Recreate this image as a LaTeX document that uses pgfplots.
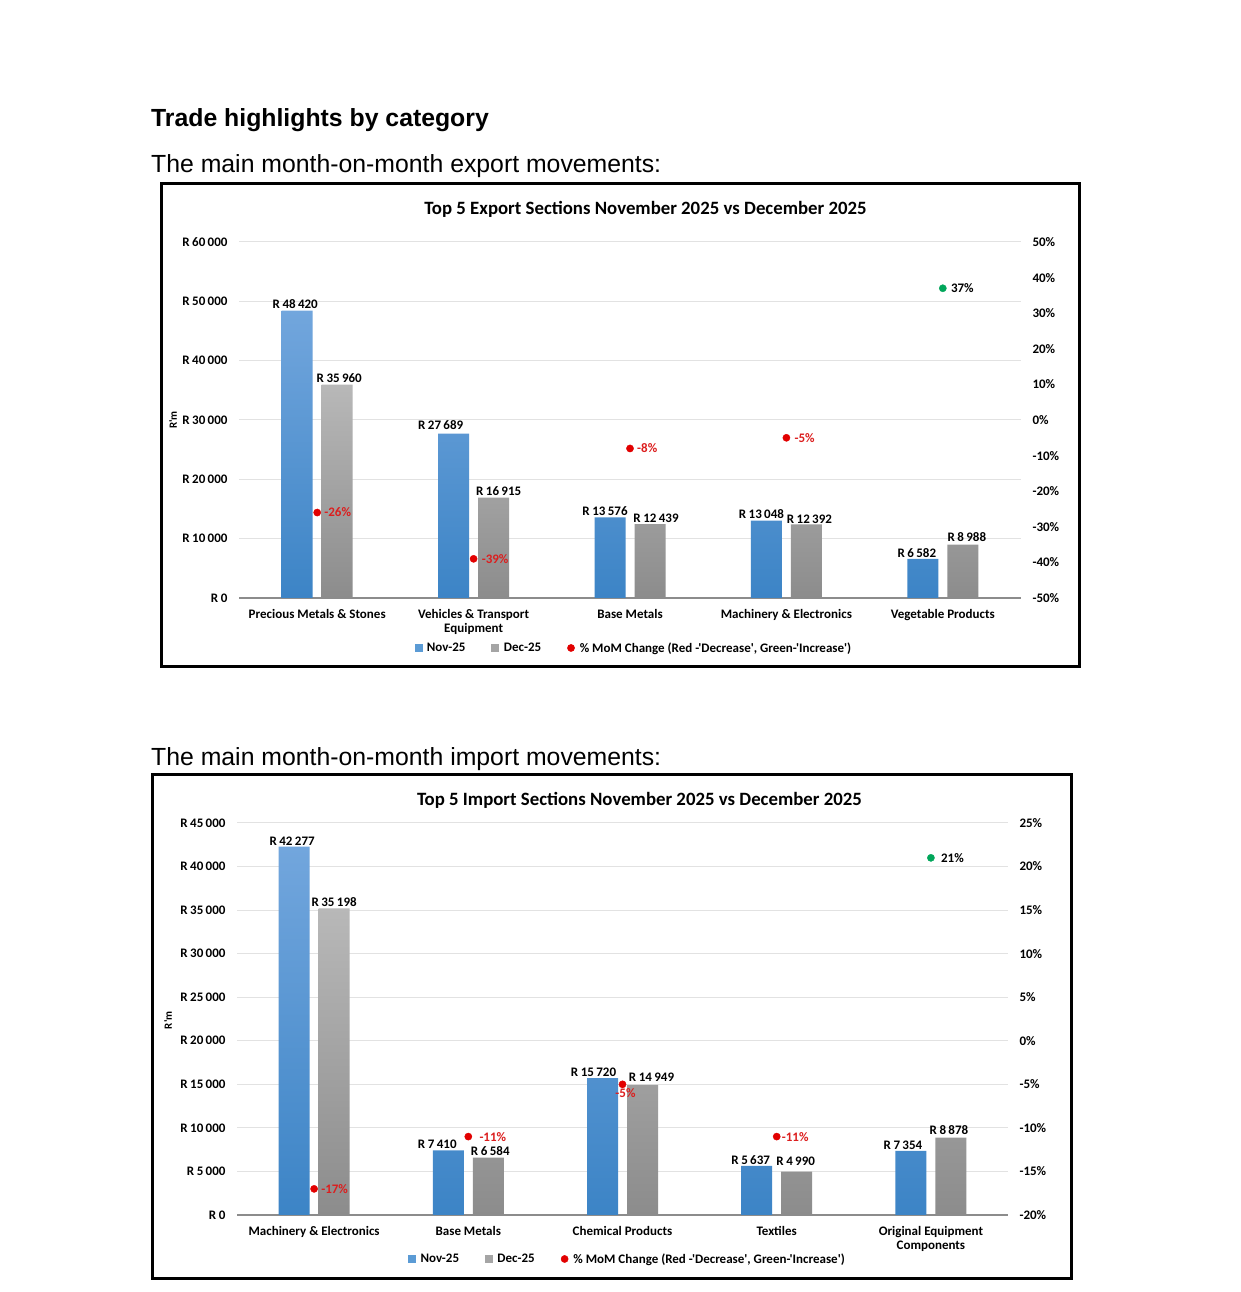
\documentclass[border=0pt]{standalone}
\usepackage{pgfplots}
\pgfplotsset{compat=1.18}
\usepackage{pgfplotstable}
\usepackage{fontspec}
\setmainfont{Liberation Sans}
\newfontfamily\chartfont{Carlito}

\definecolor{novtop}{RGB}{114,166,221}
\definecolor{novbot}{RGB}{60,132,198}
\definecolor{dectop}{RGB}{184,184,184}
\definecolor{decbot}{RGB}{140,140,140}
\definecolor{novleg}{RGB}{91,155,213}
\definecolor{decleg}{RGB}{165,165,165}
\definecolor{momred}{RGB}{226,0,0}
\definecolor{labred}{RGB}{220,30,30}
\definecolor{momgreen}{RGB}{0,166,90}
\definecolor{gridc}{RGB}{226,226,226}
\definecolor{axisc}{RGB}{140,140,140}

\newcommand\rand[1]{R\hspace{0.2em}\pgfmathprintnumber[fixed,precision=0,1000 sep={\hspace{0.18em}}]{#1}}

% ---------- export data ----------
\pgfplotstableread{
x nov ndx ndy dec ddx ddy
0 48420 -2 0 35960 2 0
1 27689 -13 2 16915 5 0
2 13576 -5 0 12439 6 0
3 13048 -5 0 12392 3 -1
4 6582 -6 0 8988 4 1.5
}\expdata
\pgfplotstableread{
x mom dx
0 -26 7
1 -39 8
2 -8 7
3 -5 8
}\expmomred
\pgfplotstableread{
x mom dx
4 37 8
}\expmomgreen

% ---------- import data ----------
\pgfplotstableread{
x nov ndx ndy dec ddx ddy
0 42277 -2 0 35198 0 0
1 7410 -11 0 6584 2 0
2 15720 -9 0 14949 9 1.5
3 5637 -6 0 4990 -1 4
4 7354 -8 0 8878 -2 1
}\impdata
\pgfplotstableread{
x mom dx
0 -17 7
1 -11 11
3 -11 5
}\impmomred
\pgfplotstableread{
x mom dx
2 -5 3
}\impmomredb
\pgfplotstableread{
x mom dx
4 21 10
}\impmomgreen

\pgfplotsset{
  chartfont/.style={font=\chartfont\bfseries\fontsize{13}{14}\selectfont},
  barax/.style={
    scale only axis, clip=false,
    xmin=-0.5, xmax=4.5,
    axis x line*=bottom, axis y line*=left,
    x axis line style={draw=axisc, line width=1.3pt, -},
    y axis line style={draw=none},
    major tick length=0pt,
    xtick={0,1,2,3,4},
    scaled y ticks=false,
    ymajorgrids, grid style={draw=gridc, line width=1pt},
    chartfont,
    /pgf/number format/assume math mode=true,
    yticklabel={\rand{\tick}},
    yticklabel style={xshift=-8pt},
    xticklabel style={align=center, yshift=-8pt},
    every axis y label/.style={rotate=90, anchor=center, font=\chartfont\bfseries\fontsize{11}{13}\selectfont},
    legend columns=3,
    legend cell align=left,
    legend style={draw=none, fill=none, anchor=center, inner sep=0pt,
      /tikz/every odd column/.append style={column sep=3pt},
      /tikz/every even column/.append style={column sep=24pt}},
  },
  pctax/.style={
    scale only axis, clip=false,
    xmin=-0.5, xmax=4.5,
    axis x line=none, axis y line*=right,
    y axis line style={draw=none},
    major tick length=0pt,
    scaled y ticks=false,
    chartfont,
    /pgf/number format/assume math mode=true,
    yticklabel={\pgfmathprintnumber{\tick}\%},
    yticklabel style={xshift=8pt},
  },
  novbar/.style={ybar, bar width=31pt, bar shift=-20pt, draw=none, top color=novtop, bottom color=novbot, forget plot,
    nodes near coords={\rand{\pgfplotspointmeta}},
    visualization depends on={\thisrow{ndx} \as \dx},
    visualization depends on={\thisrow{ndy} \as \dy},
    every node near coord/.append style={anchor=south, inner sep=1.5pt, text=black, xshift={\dx pt-20pt}, yshift=\dy pt}},
  decbar/.style={ybar, bar width=31pt, bar shift=20pt, draw=none, top color=dectop, bottom color=decbot, forget plot,
    nodes near coords={\rand{\pgfplotspointmeta}},
    visualization depends on={\thisrow{ddx} \as \dx},
    visualization depends on={\thisrow{ddy} \as \dy},
    every node near coord/.append style={anchor=south, inner sep=1.5pt, text=black, xshift={\dx pt+20pt}, yshift=\dy pt}},
  mompt/.style={only marks, mark=*, mark size=3.6pt, forget plot,
    nodes near coords={\pgfmathprintnumber{\pgfplotspointmeta}\%},
    visualization depends on={\thisrow{dx} \as \dx},
    every node near coord/.append style={anchor=west, inner sep=0pt, xshift=\dx pt}},
  legsq/.style={legend image code/.code={\fill[#1] (0pt,-3.5pt) rectangle (7pt,3.5pt);}},
  legdot/.style={legend image code/.code={\fill[#1] (3.6pt,0pt) circle (3.6pt); \path (0pt,0pt) (5pt,0pt);}},
}

\begin{document}
\begin{tikzpicture}
\fill[white] (0pt,0pt) rectangle (1240pt,1292pt);

% headings
\node[anchor=base west, inner sep=0pt, font=\fontsize{24.8}{28}\selectfont\bfseries] at (151pt,1165pt) {Trade highlights by category};
\node[anchor=base west, inner sep=0pt, font=\fontsize{24.8}{28}\selectfont] at (151pt,1119pt) {The main month-on-month export movements:};
\node[anchor=base west, inner sep=0pt, font=\fontsize{24.8}{28}\selectfont] at (151pt,526pt) {The main month-on-month import movements:};

% frames
\draw[line width=3pt] (161pt,1108pt) rectangle (1079pt,625pt);
\draw[line width=3pt] (152pt,517pt) rectangle (1071pt,13pt);

% titles
\node[anchor=base, inner sep=0pt, font=\chartfont\bfseries\fontsize{18.8}{21}\selectfont] at (645.5pt,1077pt) {Top 5 Export Sections November 2025 vs December 2025};
\node[anchor=base, inner sep=0pt, font=\chartfont\bfseries\fontsize{18.8}{21}\selectfont] at (639.5pt,486pt) {Top 5 Import Sections November 2025 vs December 2025};

% ================= EXPORT CHART =================
\begin{axis}[barax, at={(239pt,694pt)}, anchor=south west,
  width=782pt, height=356pt,
  ymin=0, ymax=60000, ytick={0,10000,...,60000},
  xticklabels={Precious Metals \& Stones, {Vehicles \& Transport\\Equipment}, Base Metals, Machinery \& Electronics, Vegetable Products},
  ylabel={R'm},
  ylabel style={at={(axis description cs:-0.0844,0.5)}},
  legend style={at={(axis description cs:0.505,-0.1404)}},
]
\addplot[novbar] table[x=x, y=nov] {\expdata};
\addplot[decbar] table[x=x, y=dec] {\expdata};
\addlegendimage{legsq=novleg}
\addlegendentry{Nov-25}
\addlegendimage{legsq=decleg}
\addlegendentry{Dec-25}
\addlegendimage{legdot=momred}
\addlegendentry{\% MoM Change (Red -'Decrease', Green-'Increase')}
\end{axis}

\begin{axis}[pctax, at={(239pt,694pt)}, anchor=south west,
  width=782pt, height=356pt,
  ymin=-50, ymax=50, ytick={-50,-40,...,50},
]
\addplot[mompt, color=momred, every node near coord/.append style={text=labred}] table[x=x, y=mom] {\expmomred};
\addplot[mompt, color=momgreen, every node near coord/.append style={text=black}] table[x=x, y=mom] {\expmomgreen};
\end{axis}

% ================= IMPORT CHART =================
\begin{axis}[barax, at={(237pt,77pt)}, anchor=south west,
  width=771pt, height=392pt,
  ymin=0, ymax=45000, ytick={0,5000,...,45000},
  xticklabels={Machinery \& Electronics, Base Metals, Chemical Products, Textiles, {Original Equipment\\Components}},
  ylabel={R'm},
  ylabel style={at={(axis description cs:-0.0895,0.497)}},
  legend style={at={(axis description cs:0.5065,-0.1122)}},
]
\addplot[novbar] table[x=x, y=nov] {\impdata};
\addplot[decbar] table[x=x, y=dec] {\impdata};
\addlegendimage{legsq=novleg}
\addlegendentry{Nov-25}
\addlegendimage{legsq=decleg}
\addlegendentry{Dec-25}
\addlegendimage{legdot=momred}
\addlegendentry{\% MoM Change (Red -'Decrease', Green-'Increase')}
\end{axis}

\begin{axis}[pctax, at={(237pt,77pt)}, anchor=south west,
  width=771pt, height=392pt,
  ymin=-20, ymax=25, ytick={-20,-15,...,25},
]
\addplot[mompt, color=momred, every node near coord/.append style={text=labred}] table[x=x, y=mom] {\impmomred};
\addplot[mompt, color=momred, every node near coord/.append style={text=labred, anchor=north, yshift=-4.5pt}] table[x=x, y=mom] {\impmomredb};
\addplot[mompt, color=momgreen, every node near coord/.append style={text=black}] table[x=x, y=mom] {\impmomgreen};
\end{axis}
\end{tikzpicture}
\end{document}
